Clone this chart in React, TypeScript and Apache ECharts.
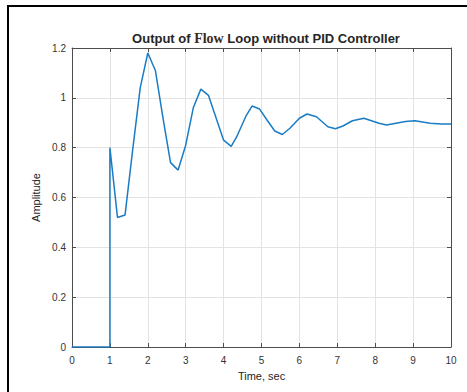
import React, { useEffect, useRef } from "react";
import * as echarts from "echarts";

const times = [0, 1, 1, 1.2, 1.4, 1.6, 1.8, 2.0, 2.2, 2.4, 2.6, 2.8, 3.0, 3.2, 3.4, 3.6, 3.8, 4.0, 4.2, 4.35, 4.6, 4.75, 4.95, 5.15, 5.35, 5.55, 5.75, 6.0, 6.2, 6.45, 6.75, 6.95, 7.15, 7.4, 7.7, 7.9, 8.1, 8.3, 8.55, 8.8, 9.05, 9.45, 9.75, 10];
const amplitude = [0, 0, 0.8, 0.52, 0.53, 0.79, 1.04, 1.18, 1.11, 0.92, 0.74, 0.71, 0.81, 0.96, 1.035, 1.01, 0.92, 0.83, 0.805, 0.845, 0.93, 0.967, 0.955, 0.91, 0.867, 0.853, 0.878, 0.918, 0.935, 0.924, 0.884, 0.876, 0.887, 0.908, 0.918, 0.908, 0.898, 0.891, 0.898, 0.905, 0.908, 0.898, 0.895, 0.895];

const titleParts = ["Output of ", "Flow", " Loop without PID Controller"];
const xName = "Time, sec";
const yName = "Amplitude";

const FONT = "'Liberation Sans', Arial, Helvetica, sans-serif";
const AXIS = "#4d4d4d";
const GRID = "#e3e3e3";

export default function App() {
  const ref = useRef<HTMLDivElement>(null);
  useEffect(() => {
    if (!ref.current) return;
    const chart = echarts.init(ref.current, undefined, { renderer: "svg" });
    const data = times.map((t, i) => [t, amplitude[i]]);
    const baseX = { type: "value" as const, min: 0, max: 10, interval: 1 };
    const baseY = { type: "value" as const, min: 0, max: 1.2, interval: 0.2 };
    const tick = { show: true, inside: true, length: 4, lineStyle: { color: AXIS, width: 1 } };
    chart.setOption({
      animation: false,
      backgroundColor: "#ffffff",
      title: {
        text: `{a|${titleParts[0]}}{b|${titleParts[1]}}{a|${titleParts[2]}}`,
        left: 261,
        top: 26,
        textAlign: "center",
        textStyle: {
          rich: {
            a: { fontFamily: FONT, fontWeight: "bold", fontSize: 13, color: "#262626" },
            b: { fontFamily: "'Liberation Serif', 'DejaVu Serif', serif", fontSize: 14, color: "#3a2a1a" },
          },
        },
      },
      grid: { left: 72, top: 48, right: 16, bottom: 45, containLabel: false },
      xAxis: [
        {
          ...baseX,
          position: "bottom",
          name: xName,
          nameLocation: "middle",
          nameGap: 23,
          nameTextStyle: { fontFamily: FONT, fontSize: 11, color: "#262626" },
          axisLine: { show: true, onZero: false, lineStyle: { color: AXIS, width: 1 } },
          axisTick: tick,
          axisLabel: { margin: 8, fontFamily: FONT, fontSize: 10, color: "#333333" },
          splitLine: { show: true, lineStyle: { color: GRID, width: 1 } },
        },
        {
          ...baseX,
          position: "top",
          axisLine: { show: true, onZero: false, lineStyle: { color: AXIS, width: 1 } },
          axisTick: tick,
          axisLabel: { show: false },
          splitLine: { show: false },
        },
      ],
      yAxis: [
        {
          ...baseY,
          position: "left",
          name: yName,
          nameLocation: "middle",
          nameGap: 23,
          nameRotate: 90,
          nameTextStyle: { fontFamily: FONT, fontSize: 11, color: "#262626" },
          axisLine: { show: true, onZero: false, lineStyle: { color: AXIS, width: 1 } },
          axisTick: tick,
          axisLabel: {
            margin: 6,
            fontFamily: FONT,
            fontSize: 10,
            color: "#333333",
            formatter: (v: number) => String(Math.round(v * 10) / 10),
          },
          splitLine: { show: true, lineStyle: { color: GRID, width: 1 } },
        },
        {
          ...baseY,
          position: "right",
          axisLine: { show: true, onZero: false, lineStyle: { color: AXIS, width: 1 } },
          axisTick: tick,
          axisLabel: { show: false },
          splitLine: { show: false },
        },
      ],
      series: [
        {
          type: "line",
          data,
          xAxisIndex: 0,
          yAxisIndex: 0,
          showSymbol: false,
          symbol: "none",
          lineStyle: { color: "#1a7cc4", width: 1.5 },
        },
      ],
      graphic: [
        { type: "line", shape: { x1: 7, y1: 6, x2: 467, y2: 6 }, style: { stroke: "#000", lineWidth: 2 } },
        { type: "line", shape: { x1: 8, y1: 5, x2: 8, y2: 392 }, style: { stroke: "#000", lineWidth: 2 } },
      ],
    });
    return () => chart.dispose();
  }, []);
  return (
    <div
      ref={ref}
      style={{ position: "fixed", left: 0, top: 0, width: 467, height: 392 }}
    />
  );
}
